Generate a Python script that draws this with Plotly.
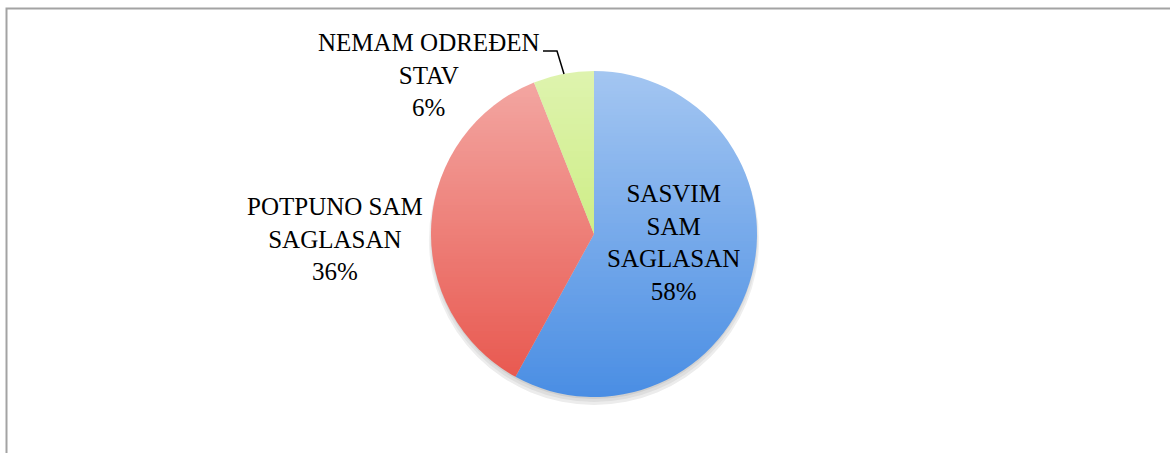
import plotly.graph_objects as go

# ---- data ----
categories = ["SASVIM SAM SAGLASAN", "POTPUNO SAM SAGLASAN", "NEMAM ODREĐEN STAV"]
display_labels = ["SASVIM<br>SAM<br>SAGLASAN", "POTPUNO SAM<br>SAGLASAN", "NEMAM ODREĐEN<br>STAV"]
values = [58, 36, 6]
base_colors = ["#4a8ee4", "#e8544b", "#bee85f"]

W, H = 1170, 453

def px(x):
    return x / W

def py(y):
    return 1 - y / H

# pie geometry (pixels)
cx, cy, r = 594, 234, 163

fig = go.Figure()

# soft shadow under the pie (opaque greys, drawn first)
for dy, dr, col in [(6, 2, "#ececec"), (4, 1, "#dedede"), (2, 0, "#cfcfcf")]:
    fig.add_trace(go.Pie(
        values=[1], labels=["shadow"], sort=False,
        marker=dict(colors=[col], line=dict(width=0)),
        textinfo="none", hoverinfo="skip", showlegend=False,
        domain=dict(x=[px(cx - r - dr), px(cx + r + dr)],
                    y=[py(cy + dy + r + dr), py(cy + dy - r - dr)]),
    ))

fig.add_trace(go.Pie(
    labels=categories, values=values, sort=False, direction="clockwise", rotation=0,
    marker=dict(colors=base_colors, line=dict(width=0)),
    textinfo="none", hoverinfo="label+percent", showlegend=False,
    domain=dict(x=[px(cx - r), px(cx + r)], y=[py(cy + r), py(cy - r)]),
))

shapes = []
# vertical light gradient overlay: non-overlapping pixel-aligned bands of white,
# more opaque at the top of the pie
top_alpha = 0.5
band = 3
top, bottom = cy - r - 1, cy + r + 1
y = top
while y < bottom:
    y2 = min(y + band, bottom)
    t = ((y + y2) / 2 - top) / (bottom - top)
    a = top_alpha * (1 - t)
    shapes.append(dict(type="rect", xref="paper", yref="paper",
                       x0=px(cx - r - 8), x1=px(cx + r + 8), y0=py(y2), y1=py(y),
                       fillcolor=f"rgba(255,255,255,{a:.4f})", line=dict(width=0),
                       layer="above"))
    y = y2

# chart frame
shapes.append(dict(type="rect", xref="paper", yref="paper",
                   x0=px(6.5), x1=px(W + 10), y0=py(H + 10), y1=py(8.5),
                   line=dict(color="#a3a3a3", width=2), fillcolor="rgba(0,0,0,0)",
                   layer="above"))

# leader line for the small slice
shapes.append(dict(type="path", xref="paper", yref="paper",
                   path=f"M {px(543)} {py(51)} L {px(557)} {py(51)} L {px(564)} {py(74)}",
                   line=dict(color="#000000", width=1.5), layer="above"))

label_pos = [(673, 243), (335, 239), (429, 75)]
annotations = []
for lab, v, (x, y) in zip(display_labels, values, label_pos):
    annotations.append(dict(
        text=f"{lab}<br>{v}%", x=px(x), y=py(y), xref="paper", yref="paper",
        showarrow=False, xanchor="center", yanchor="middle", align="center",
        font=dict(family="Liberation Serif, Times New Roman, serif", size=25, color="#000000"),
    ))

fig.update_layout(
    width=W, height=H, autosize=False,
    margin=dict(l=0, r=0, t=0, b=0),
    paper_bgcolor="#ffffff", plot_bgcolor="#ffffff",
    shapes=shapes, annotations=annotations, showlegend=False,
)

fig.write_html("out.html", config={"displayModeBar": False},
               post_script="document.body.style.margin='0px';")
